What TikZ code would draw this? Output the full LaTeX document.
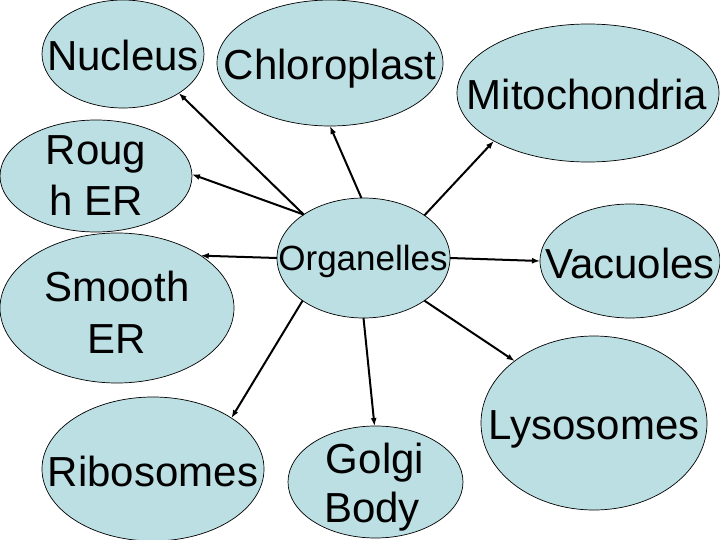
\documentclass[tikz,border=0pt]{standalone}
\usepackage{fontspec}
\setmainfont{Liberation Sans}
\usetikzlibrary{shapes.geometric,arrows.meta}
\definecolor{cellblue}{RGB}{188,223,227}
\tikzset{
  cell/.style={ellipse, draw=black, line width=0.7pt, fill=cellblue, inner sep=0pt, outer sep=0pt},
  lbl/.style={anchor=base, inner sep=0pt, font=\fontsize{42}{50}\selectfont},
  smalllbl/.style={anchor=base, inner sep=0pt, font=\fontsize{35}{42}\selectfont},
  arr/.style={line width=2pt, -{Latex[length=8pt,width=6pt]}}
}
\begin{document}
\begin{tikzpicture}[x=1pt,y=-1pt]
\useasboundingbox (0,0) rectangle (720,540);
% ellipses
\node[cell, minimum width=162pt, minimum height=108pt] (nuc) at (123,54) {};
\node[cell, minimum width=226pt, minimum height=126pt] (chl) at (330,63) {};
\node[cell, minimum width=262pt, minimum height=138pt] (mit) at (588,93) {};
\node[cell, minimum width=192pt, minimum height=112pt] (rer) at (96,176) {};
\node[cell, minimum width=234pt, minimum height=150pt] (ser) at (117,308) {};
\node[cell, minimum width=173pt, minimum height=120pt] (org) at (363.5,258) {};
\node[cell, minimum width=180pt, minimum height=114pt] (vac) at (630,261) {};
\node[cell, minimum width=226pt, minimum height=174pt] (lys) at (594,423) {};
\node[cell, minimum width=222pt, minimum height=144pt] (rib) at (153,469) {};
\node[cell, minimum width=175pt, minimum height=112pt] (gol) at (375.5,482) {};
% labels
\node[lbl] (nuct) at (123,71) {Nucleus};
\node[lbl] (chlt) at (330,80) {Chloroplast};
\node[lbl] (mitt) at (587,110) {Mitochondria};
\node[lbl] (rert1) at (96,165) {Roug};
\node[lbl] (rert2) at (96,215) {h ER};
\node[lbl] (sert1) at (117,301) {Smooth};
\node[lbl] (sert2) at (117,353) {ER};
\node[smalllbl] (orgt) at (363,270) {Organelles};
\node[lbl] (vact) at (630,278) {Vacuoles};
\node[lbl] (lyst) at (594,439) {Lysosomes};
\node[lbl] (ribt) at (153,486) {Ribosomes};
\node[lbl] (golt1) at (375,473) {Golgi};
\node[lbl] (golt2) at (372,522) {Body};
% connectors
\draw[arr] (org.144.7) -- (nuc.325.6);
\draw[arr] (org.144.7) -- (rer.1);
\draw[arr] (org.92) -- (chl.270);
\draw[arr] (org.35) -- (mit.207.8);
\draw[arr] (org.180) -- (ser.32);
\draw[arr] (org.215.6) -- (rib.33.4);
\draw[arr] (org.270) -- (gol.91);
\draw[arr] (org.0.5) -- (vac.180);
\draw[arr] (org.325) -- (lys.142.7);
\end{tikzpicture}
\end{document}
